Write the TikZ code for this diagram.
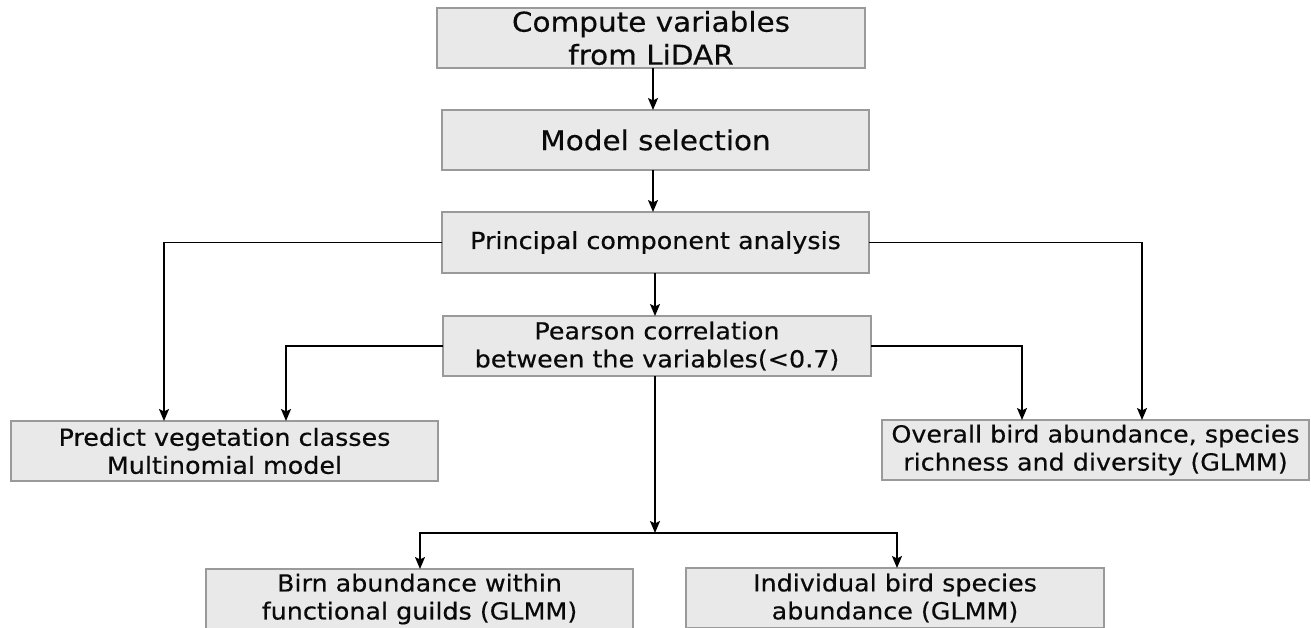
\documentclass[tikz,border=0pt]{standalone}
\usepackage{fontspec}
\setmainfont{DejaVu Sans}[FakeStretch=1.08,FakeBold=0.4]
\usetikzlibrary{arrows.meta}
\definecolor{boxfill}{HTML}{E9E9E9}
\definecolor{boxline}{HTML}{9A9A9A}
\definecolor{txt}{HTML}{0A0A0A}
\tikzset{
  box/.style={draw=boxline, fill=boxfill, line width=1.6pt, rectangle,
    inner sep=0pt, outer sep=0pt, align=center, text=txt},
  big/.style={font=\fontsize{27.3}{33}\selectfont},
  med/.style={font=\fontsize{23.5}{28}\selectfont},
  arr/.style={line width=1.7pt, -{Stealth[length=12pt,width=10pt,inset=2.5pt]}}
}
\begin{document}
\begin{tikzpicture}[x=1pt,y=-1pt]
\useasboundingbox (0,0) rectangle (1311,627);
\node[box,big,minimum width=428pt,minimum height=60pt] (lidar) at (651,38) {Compute variables\\from LiDAR};
\node[box,big,minimum width=427pt,minimum height=60pt] (model) at (655.5,140) {Model selection};
\node[box,med,minimum width=427pt,minimum height=61pt] (pca) at (655.5,242.5) {Principal component analysis};
\node[box,med,minimum width=428pt,minimum height=60pt] (pear) at (657,346) {Pearson correlation\\between the variables(<0.7)};
\node[box,med,minimum width=427pt,minimum height=60pt] (pred) at (224.5,451) {Predict vegetation classes\\Multinomial model};
\node[box,med,minimum width=427pt,minimum height=60pt] (over) at (1095.5,450) {Overall bird abundance, species\\richness and diversity (GLMM)};
\node[box,med,minimum width=427pt,minimum height=60pt] (birn) at (419.5,599) {Birn abundance within\\functional guilds (GLMM)};
\node[box,med,minimum width=418pt,minimum height=60pt] (ind) at (895,598) {Individual bird species\\abundance (GLMM)};
\coordinate (j) at (655,533);

\draw[arr] ([xshift=2pt]lidar.south) -- ([xshift=2pt]lidar.south |- model.north);
\draw[arr] ([xshift=-2.5pt]model.south) -- ([xshift=-2.5pt]model.south |- pca.north);
\draw[arr] ([xshift=-0.5pt]pca.south) -- ([xshift=-0.5pt]pca.south |- pear.north);
\draw[arr] (pca.west) -| ([xshift=-60.5pt]pred.north);
\draw[arr] (pear.west) -| ([xshift=61.5pt]pred.north);
\draw[arr] (pear.east) -| ([xshift=-73.5pt]over.north);
\draw[arr] (pca.east) -| ([xshift=46.5pt]over.north);
\draw[arr] (pear.south -| j) -- (j);
\draw[arr] (j) -| ([xshift=0.5pt]birn.north);
\draw[arr] (j) -| ([xshift=2pt]ind.north);
\end{tikzpicture}
\end{document}
